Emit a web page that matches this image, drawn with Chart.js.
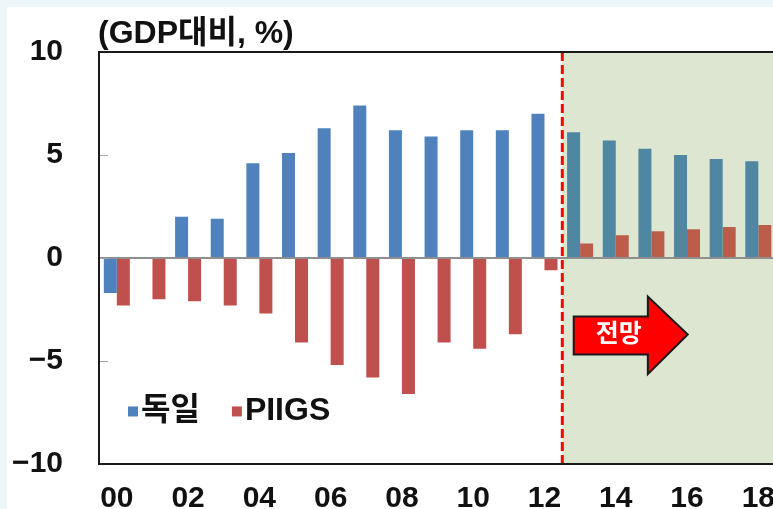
<!DOCTYPE html>
<html>
<head>
<meta charset="utf-8">
<script src="https://cdn.jsdelivr.net/npm/chart.js@4.4.1/dist/chart.umd.min.js"></script>
<style>
  html, body { margin: 0; padding: 0; overflow: hidden; background: #eef6f9; width: 773px; height: 509px; }
  #card { position: absolute; left: 7px; top: 7px; right: 0; bottom: 0; background: #ffffff; }
  #balanceChart { position: absolute; left: 7px; top: -2px; display: block; }
</style>
</head>
<body>
<div id="card"></div>
<canvas id="balanceChart" width="785" height="522"></canvas>
<script>
// 경상수지 (GDP대비, %) - 독일 vs PIIGS, 13년 이후 전망
const years = ['00', '01', '02', '03', '04', '05', '06', '07', '08', '09',
               '10', '11', '12', '13', '14', '15', '16', '17', '18'];
const germany = [-1.7, 0, 2.0, 1.9, 4.6, 5.1, 6.3, 7.4, 6.2, 5.9,
                 6.2, 6.2, 7.0, 6.1, 5.7, 5.3, 5.0, 4.8, 4.7];
const piigs = [-2.3, -2.0, -2.1, -2.3, -2.7, -4.1, -5.2, -5.8, -6.6, -4.1,
               -4.4, -3.7, -0.6, 0.7, 1.1, 1.3, 1.4, 1.5, 1.6];
const yTicks = [-10, -5, 0, 5, 10];
const forecastStart = 13; // index of '13'

const FONT = '"Liberation Sans", "Noto Sans CJK KR", Arial, sans-serif';

// colours shift slightly inside the shaded forecast box
const blueColors = years.map((y, i) => i >= forecastStart ? '#4f87a2' : '#4f81bd');
const redColors = years.map((y, i) => i >= forecastStart ? '#bc5d4a' : '#c0504d');

// Shaded forecast region, drawn under the grid and bars
const forecastShade = {
    id: 'forecastShade',
    beforeDraw(chart) {
        const { ctx, chartArea, scales } = chart;
        const x0 = scales.x.getPixelForValue(forecastStart - 0.5);
        ctx.save();
        ctx.fillStyle = '#dde6d0';
        ctx.fillRect(x0, chartArea.top, chartArea.right - x0, chartArea.bottom - chartArea.top);
        ctx.restore();
    }
};

// Frame, inside ticks, dashed divider, arrow, legend, unit label
const decorations = {
    id: 'decorations',
    afterDatasetsDraw(chart) {
        const { ctx, chartArea, scales } = chart;
        const x = scales.x, y = scales.y;

        // dashed red divider
        const xd = x.getPixelForValue(forecastStart - 0.5);
        ctx.save();
        ctx.strokeStyle = '#ff0000';
        ctx.lineWidth = 3;
        ctx.setLineDash([9, 4]);
        ctx.beginPath();
        ctx.moveTo(xd, chartArea.top);
        ctx.lineTo(xd, chartArea.bottom);
        ctx.stroke();
        ctx.restore();

        // forecast arrow
        const bodyL = x.getPixelForValue(12.82);
        const headL = x.getPixelForValue(14.9);
        const tip = x.getPixelForValue(16.02);
        const bTop = y.getPixelForValue(-2.84), bBot = y.getPixelForValue(-4.68);
        const hTop = y.getPixelForValue(-1.87), hBot = y.getPixelForValue(-5.64);
        const mid = y.getPixelForValue(-3.71);
        ctx.save();
        ctx.beginPath();
        ctx.moveTo(bodyL, bTop);
        ctx.lineTo(headL, bTop);
        ctx.lineTo(headL, hTop);
        ctx.lineTo(tip, mid);
        ctx.lineTo(headL, hBot);
        ctx.lineTo(headL, bBot);
        ctx.lineTo(bodyL, bBot);
        ctx.closePath();
        ctx.fillStyle = '#ff0000';
        ctx.fill();
        ctx.lineWidth = 2;
        ctx.strokeStyle = '#1a1a1a';
        ctx.lineJoin = 'miter';
        ctx.stroke();
        ctx.fillStyle = '#ffffff';
        ctx.font = 'bold 25px ' + FONT;
        ctx.textAlign = 'center';
        ctx.textBaseline = 'middle';
        ctx.fillText('전망', (bodyL + headL) / 2 + 8, mid + 1);
        ctx.restore();
    },
    afterDraw(chart) {
        const { ctx, chartArea, scales } = chart;
        const y = scales.y;
        ctx.save();

        // small inside ticks on the value axis
        ctx.strokeStyle = '#a0a0a0';
        ctx.lineWidth = 1;
        yTicks.forEach(v => {
            const py = Math.round(y.getPixelForValue(v)) + 0.5;
            ctx.beginPath();
            ctx.moveTo(chartArea.left, py);
            ctx.lineTo(chartArea.left + 9, py);
            ctx.stroke();
        });

        // plot frame
        ctx.strokeStyle = '#1a1a1a';
        ctx.lineWidth = 2;
        ctx.strokeRect(chartArea.left, chartArea.top, chartArea.right - chartArea.left + 2, chartArea.bottom - chartArea.top);

        // unit label
        ctx.fillStyle = '#111111';
        ctx.font = 'bold 32px ' + FONT;
        ctx.textAlign = 'left';
        ctx.textBaseline = 'middle';
        ctx.fillText('(GDP대비, %)', chartArea.left - 1, chartArea.top - 18);

        // legend inside the plot
        ctx.font = 'bold 32px ' + FONT;
        const ly = y.getPixelForValue(-7.45);
        let lx = chartArea.left + 29;
        chart.data.datasets.forEach(ds => {
            ctx.fillStyle = ds.legendColor;
            ctx.fillRect(lx, ly - 5, 10, 10);
            ctx.fillStyle = '#111111';
            ctx.fillText(ds.label, lx + 13, ly);
            lx += 13 + ctx.measureText(ds.label).width + 32;
        });
        ctx.restore();
    }
};

new Chart(document.getElementById('balanceChart'), {
    type: 'bar',
    data: {
        labels: years,
        datasets: [{
            label: '독일',
            data: germany,
            backgroundColor: blueColors,
            legendColor: '#4f81bd',
            categoryPercentage: 0.73,
            barPercentage: 1.0
        }, {
            label: 'PIIGS',
            data: piigs,
            backgroundColor: redColors,
            legendColor: '#c0504d',
            categoryPercentage: 0.73,
            barPercentage: 1.0
        }]
    },
    options: {
        responsive: false,
        animation: false,
        layout: { padding: { top: 36, right: 0, bottom: 0, left: 0 } },
        plugins: {
            legend: { display: false },
            title: { display: false },
            tooltip: { enabled: false }
        },
        scales: {
            x: {
                afterFit(scale) { scale.height = 56; },
                grid: { display: false, drawTicks: false },
                border: { display: false },
                ticks: {
                    autoSkip: false,
                    maxRotation: 0,
                    padding: 17,
                    color: '#111111',
                    font: { family: FONT, size: 30, weight: 'bold' },
                    callback(value, index) {
                        return index % 2 === 0 ? years[index] : '';
                    }
                }
            },
            y: {
                min: -10,
                max: 10,
                afterFit(scale) { scale.width = 92; },
                afterBuildTicks(scale) {
                    scale.ticks = yTicks.map(v => ({ value: v }));
                },
                grid: {
                    drawTicks: false,
                    lineWidth: 2,
                    color: ctx => ctx.tick && ctx.tick.value === 0 ? '#8f8f8f' : 'rgba(0,0,0,0)'
                },
                border: { display: false },
                ticks: {
                    padding: 36,
                    color: '#111111',
                    font: { family: FONT, size: 30, weight: 'bold' },
                    callback: v => String(v).replace('-', '\u2212')
                }
            }
        }
    },
    plugins: [forecastShade, decorations]
});
</script>
</body>
</html>
